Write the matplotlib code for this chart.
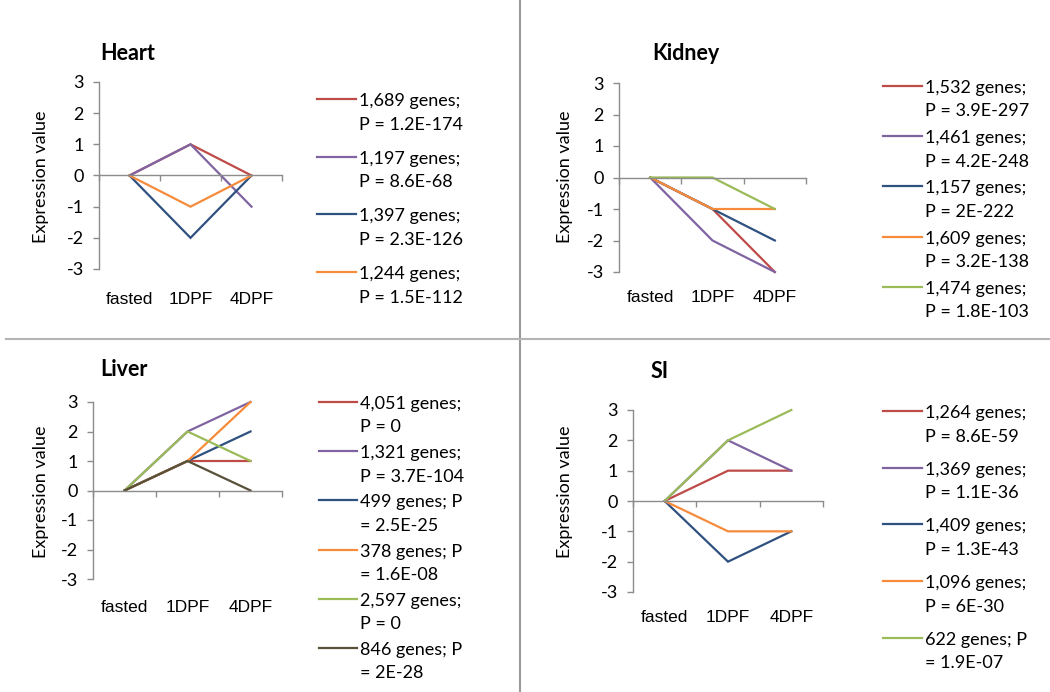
import matplotlib
matplotlib.use('Agg')
import matplotlib.pyplot as plt
from matplotlib.lines import Line2D

# categories on the x axis
categories = ['fasted', '1DPF', '4DPF']

# expression value per cluster (one row per legend entry)
heart_values = [[0, 1, 0], [0, 1, -1], [0, -2, 0], [0, -1, 0]]
heart_labels = ['1,689 genes;\nP = 1.2E-174', '1,197 genes;\nP = 8.6E-68',
                '1,397 genes;\nP = 2.3E-126', '1,244 genes;\nP = 1.5E-112']

kidney_values = [[0, -1, -3], [0, -2, -3], [0, -1, -2], [0, -1, -1], [0, 0, -1]]
kidney_labels = ['1,532 genes;\nP = 3.9E-297', '1,461 genes;\nP = 4.2E-248',
                 '1,157 genes;\nP = 2E-222', '1,609 genes;\nP = 3.2E-138',
                 '1,474 genes;\nP = 1.8E-103']

liver_values = [[0, 1, 1], [0, 2, 3], [0, 1, 2], [0, 1, 3], [0, 2, 1], [0, 1, 0]]
liver_labels = ['4,051 genes;\nP = 0', '1,321 genes;\nP = 3.7E-104',
                '499 genes; P\n= 2.5E-25', '378 genes; P\n= 1.6E-08',
                '2,597 genes;\nP = 0', '846 genes; P\n= 2E-28']

si_values = [[0, 1, 1], [0, 2, 1], [0, -2, -1], [0, -1, -1], [0, 2, 3]]
si_labels = ['1,264 genes;\nP = 8.6E-59', '1,369 genes;\nP = 1.1E-36',
             '1,409 genes;\nP = 1.3E-43', '1,096 genes;\nP = 6E-30',
             '622 genes; P\n= 1.9E-07']

yticks = [-3, -2, -1, 0, 1, 2, 3]

colors = ['#BE4B48', '#8064A2', '#2F5180', '#F68B3C', '#9BBB59', '#57513A']
axis_grey = '#8C8C8C'

W, H = 1050, 692


def fx(x):
    return x / W


def fy(y):
    return 1 - y / H


fig = plt.figure(figsize=(W / 100, H / 100), dpi=100)
fig.patch.set_facecolor('white')

# (title, values, labels, axes l/t/r/b px, title xy, ylabel xy, xlabel dy,
#  legend x0/x1/xt, legend y0, legend step)
panels = [
    ('Heart', heart_values, heart_labels, (99, 82, 282, 269), (100, 53), (41, 177), 31,
     (317, 356, 359), 99, 57.7),
    ('Kidney', kidney_values, kidney_labels, (619, 83, 806, 272), (652, 53), (565, 177), 26,
     (883, 922, 925), 86, 50.2),
    ('Liver', liver_values, liver_labels, (93, 402, 282, 579), (100, 370), (41, 492), 29,
     (319, 357, 360), 402, 49.2),
    ('SI', si_values, si_labels, (633, 410, 823, 592), (651, 371), (565, 492), 26,
     (883, 922, 925), 411, 56.7),
]

main_font = 'Lato'
cat_font = 'Liberation Sans'

for (title, values, labels, box, txy, lxy, xdy, lgx, ly0, lstep) in panels:
    l, t, r, b = box
    ax = fig.add_axes([fx(l), fy(b), (r - l) / W, (b - t) / H])
    for i, row in enumerate(values):
        ax.plot(range(len(categories)), row, color=colors[i], lw=1.6,
                clip_on=False, solid_joinstyle='miter')
    ax.set_xlim(-0.5, len(categories) - 0.5)
    ax.set_ylim(-3, 3)
    for s in ['top', 'right']:
        ax.spines[s].set_visible(False)
    ax.spines['bottom'].set_position(('data', 0))
    for s in ['left', 'bottom']:
        ax.spines[s].set_color(axis_grey)
        ax.spines[s].set_linewidth(1.0)
    ax.set_xticks([k - 0.5 for k in range(len(categories) + 1)])
    ax.set_xticklabels([])
    ax.set_yticks(yticks)
    ax.set_yticklabels([str(v) for v in yticks], fontfamily=main_font, fontsize=13)
    ax.tick_params(axis='both', direction='out', length=4, width=1.0, color=axis_grey)
    ax.tick_params(axis='y', pad=7)
    ax.patch.set_visible(False)
    for k, c in enumerate(categories):
        ax.text(k, -xdy / (b - t), c, transform=ax.get_xaxis_transform(),
                ha='center', va='center', fontfamily=cat_font, fontsize=12.5)

    fig.text(fx(txy[0]), fy(txy[1]), title, ha='left', va='center',
             fontfamily=main_font, fontweight='bold', fontsize=15.5)
    fig.text(fx(lxy[0]), fy(lxy[1]), 'Expression value', ha='center', va='center',
             rotation=90, fontfamily=main_font, fontsize=13)

    # legend with the key aligned to the first text line
    for i, lab in enumerate(labels):
        y = ly0 + i * lstep
        fig.add_artist(Line2D([fx(lgx[0]), fx(lgx[1])], [fy(y), fy(y)],
                              color=colors[i], lw=1.6, transform=fig.transFigure))
        for j, part in enumerate(lab.split('\n')):
            fig.text(fx(lgx[2]), fy(y + 2 + j * 23.5), part, ha='left', va='center',
                     fontfamily=main_font, fontsize=13)

# quadrant dividers
fig.add_artist(Line2D([fx(520), fx(520)], [fy(0), fy(692)], color='#9A9A9A', lw=1.5,
                      transform=fig.transFigure))
fig.add_artist(Line2D([fx(6), fx(1050)], [fy(339.5), fy(339.5)], color='#B4B4B4', lw=1.5,
                      transform=fig.transFigure))

fig.savefig('out.png', dpi=100)
